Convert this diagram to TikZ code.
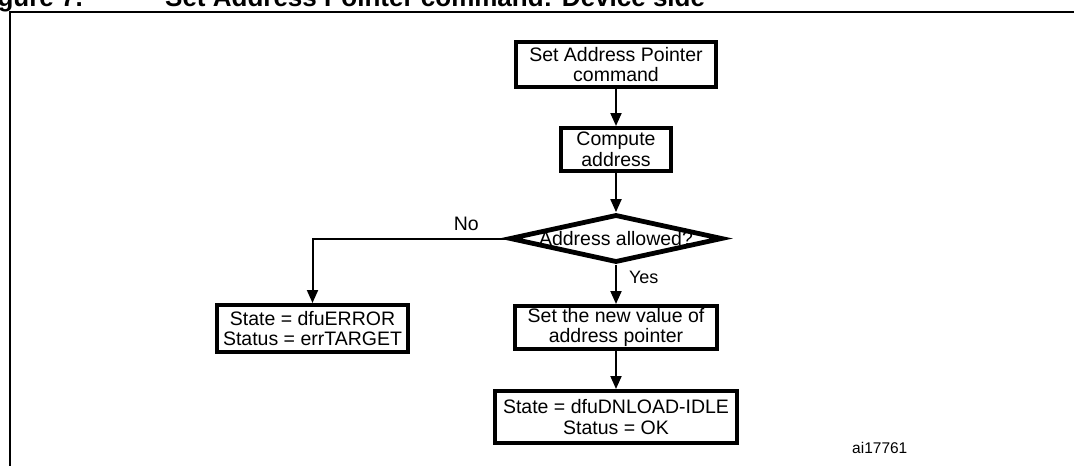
\documentclass[tikz,border=0pt]{standalone}
\usepackage{fontspec}
\setmainfont{Liberation Sans}
\usetikzlibrary{shapes.geometric,arrows.meta}

\tikzset{
  body/.style={font=\fontsize{19.5}{20.5}\selectfont},
  stepbox/.style={draw, line width=4pt, fill=white, align=center, inner sep=0pt, body},
  decision/.style={draw, diamond, line width=4.8pt, fill=white, inner sep=0pt},
  flow/.style={line width=2pt, -{Triangle[length=13pt,width=11pt]}},
  branch/.style={inner sep=0pt, body},
  titletext/.style={font=\fontsize{26}{28}\selectfont\bfseries, inner sep=0pt},
}

\begin{document}
\begin{tikzpicture}[x=1pt, y=-1pt]
  \useasboundingbox (0,0) rectangle (1074,466);
  \clip (0,0) rectangle (1074,466);

  % caption line and frame
  \node[titletext, anchor=base east] (fignum) at (83,6) {Figure 7.};
  \node[titletext, anchor=base west] (figtitle) at (165,6) {Set Address Pointer command: Device side};
  \draw[line width=2pt] (10,490) -- (10,12) -- (1100,12);

  % flow steps
  \node[stepbox, minimum width=200pt, minimum height=45pt] (cmd) at (616,64.5)
    {Set Address Pointer\\command};
  \node[stepbox, minimum width=110pt, minimum height=43pt] (comp) at (616,149.5)
    {Compute\\address};
  \node[decision, minimum width=213pt, minimum height=48pt,
        label={[body, inner sep=0pt]center:Address allowed?}] (allowed) at (616,238.5) {};
  \node[stepbox, minimum width=191pt, minimum height=47pt] (err) at (312.5,328.5)
    {State = dfuERROR\\Status = errTARGET};
  \node[stepbox, minimum width=202pt, minimum height=43pt] (setptr) at (616,327.5)
    {Set the new value of\\address pointer};
  \node[stepbox, minimum width=242pt, minimum height=52pt] (idle) at (616,417)
    {State = dfuDNLOAD-IDLE\\Status = OK};

  % connectors
  \draw[flow] (cmd) -- (comp);
  \draw[flow] (comp) -- (allowed);
  \draw[flow] (allowed.west) -| node[branch, pos=0.105, above=7pt] {No} (err.north);
  \draw[flow] (allowed.south) -- node[branch, pos=0.33, right=12pt, font=\fontsize{18}{20}\selectfont] {Yes} (setptr.north);
  \draw[flow] (setptr) -- (idle);

  % drawing reference
  \node[anchor=west, inner sep=0pt, font=\fontsize{15.5}{17}\selectfont] (ref) at (852,448) {ai17761};
\end{tikzpicture}
\end{document}
